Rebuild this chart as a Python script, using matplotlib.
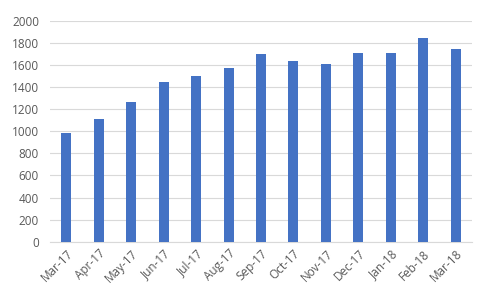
import matplotlib
matplotlib.use("Agg")
import matplotlib.pyplot as plt

categories = ["Mar-17", "Apr-17", "May-17", "Jun-17", "Jul-17", "Aug-17", "Sep-17",
              "Oct-17", "Nov-17", "Dec-17", "Jan-18", "Feb-18", "Mar-18"]
values = [988, 1115, 1270, 1443, 1506, 1570, 1697, 1633, 1606, 1706, 1706, 1843, 1743]
yticks = [0, 200, 400, 600, 800, 1000, 1200, 1400, 1600, 1800, 2000]

plt.rcParams['font.family'] = ['Open Sans', 'DejaVu Sans']
fig = plt.figure(figsize=(4.82, 2.90), dpi=100)
ax = fig.add_axes([0.104, 0.1666, 0.875, 0.761])
x = list(range(len(categories)))
ax.bar(x, values, width=0.31, color="#4472C4", zorder=3)
ax.set_xlim(-0.5, len(categories) - 0.5)
ax.set_ylim(0, 2000)
ax.set_yticks(yticks)
ax.set_yticklabels([str(v) for v in yticks], fontsize=8.5, color="#595959")
ax.set_xticks(x)
ax.set_xticklabels(categories, rotation=45, ha="right", rotation_mode="anchor",
                   fontsize=8.5, color="#595959")
ax.grid(axis="y", color="#d9d9d9", linewidth=0.8, zorder=0)
for s in ["top", "right", "left"]:
    ax.spines[s].set_visible(False)
ax.spines["bottom"].set_color("#d9d9d9")
ax.tick_params(axis="both", length=0, pad=4)
ax.tick_params(axis="y", pad=8)
fig.savefig("out.png", dpi=100)
